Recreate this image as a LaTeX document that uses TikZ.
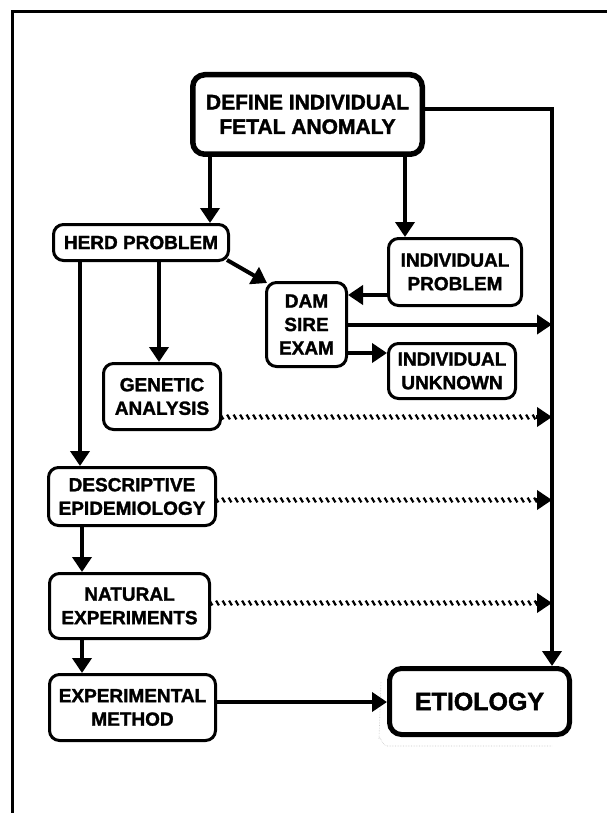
\documentclass[tikz,border=0pt]{standalone}
\usepackage{fontspec}
\setmainfont[BoldFeatures={FakeBold=1.6}]{Liberation Sans}
\usetikzlibrary{arrows.meta,decorations.markings,calc}
\begin{document}
\begin{tikzpicture}[x=1pt,y=-1pt,
  box/.style={draw, line width=3pt, rounded corners=10pt, inner sep=0pt, align=center,
    font=\bfseries\fontsize{19}{23.5}\selectfont},
  bigbox/.style={box, line width=5.5pt, rounded corners=12pt},
  conn/.style={line width=4pt},
  arr/.style={conn, -{Triangle[length=15pt,width=19pt]}},
  hatch/.style={postaction={decorate}, decoration={markings,
    mark=between positions 0 and 1 step 6.5pt with {\draw[line width=2.2pt] (-1.4pt,2.4pt)--(1.4pt,-2.4pt);}}},
]
\useasboundingbox (0,0) rectangle (607,813);
% frame
\draw[line width=3pt] (12,813) -- (12,12) -- (607,12);

% nodes
\node[bigbox, minimum width=229.5, minimum height=79.5, font=\bfseries\fontsize{21}{24.5}\selectfont]
  (def) at (307.5,114.5) {DEFINE INDIVIDUAL\\FETAL ANOMALY};
\node[box, minimum width=175, minimum height=36] (herd) at (141,242.5) {HERD PROBLEM};
\node[box, minimum width=133, minimum height=67] (indp) at (455,272) {INDIVIDUAL\\PROBLEM};
\node[box, minimum width=80, minimum height=84] (dam) at (306.5,324.5) {DAM\\SIRE\\EXAM};
\node[box, minimum width=127, minimum height=55] (indu) at (452,371) {INDIVIDUAL\\UNKNOWN};
\node[box, minimum width=117, minimum height=66] (gen) at (162,396.5) {GENETIC\\ANALYSIS};
\node[box, minimum width=167, minimum height=58] (desc) at (132,496.5) {DESCRIPTIVE\\EPIDEMIOLOGY};
\node[box, minimum width=160, minimum height=65] (nat) at (129.5,606) {NATURAL\\EXPERIMENTS};
\node[box, minimum width=166, minimum height=66] (exp) at (132.5,707.5) {EXPERIMENTAL\\METHOD};
\node[bigbox, line width=5pt, minimum width=180, minimum height=66, font=\bfseries\fontsize{25}{28}\selectfont]
  (eti) at (479.5,701.5) {ETIOLOGY};

% faint scan trace around ETIOLOGY
\draw[gray!45, line width=0.6pt, densely dotted] (381,682) -- (379,738) to[out=90,in=180] (387,746) -- (552,746);

% helper coordinates
\coordinate (vx) at (552,0);
\coordinate (c210) at (210,0);
\coordinate (c405) at (405,0);
\coordinate (c159) at (159,0);
\coordinate (c80) at (80,0);
\coordinate (c82) at (82,0);
\coordinate (r295) at (0,295);
\coordinate (r353) at (0,353);
\coordinate (r417) at (0,417);
\coordinate (r500) at (0,500);
\coordinate (r603) at (0,603);
\coordinate (r702) at (0,702);

% connectors
\draw[arr] (c210 |- def.south) -- (c210 |- herd.north);
\draw[arr] (c405 |- def.south) -- (c405 |- indp.north);
\draw[arr] ([yshift=5.5pt]def.east) -| (vx |- eti.north);
\draw[arr] (c159 |- herd.south) -- (c159 |- gen.north);
\draw[arr] (c80 |- herd.south) -- (c80 |- desc.north);
\draw[arr] ([shift={(-3,-2)}]herd.south east) -- ([shift={(2,2)}]dam.north west);
\draw[arr] (r295 -| indp.west) -- (r295 -| dam.east);
\draw[arr] (dam.east) -- (dam.east -| vx);
\draw[arr] (r353 -| dam.east) -- (r353 -| indu.west);
\draw[arr] (c82 |- desc.south) -- (c82 |- nat.north);
\draw[arr] (c82 |- nat.south) -- (c82 |- exp.north);
\draw[arr] (r702 -| exp.east) -- (r702 -| eti.west);

% hatched connectors
\path[hatch] (r417 -| gen.east) -- ($(r417 -| vx)+(-15,0)$);
\draw[arr] ($(r417 -| vx)+(-16,0)$) -- (r417 -| vx);
\path[hatch] (r500 -| desc.east) -- ($(r500 -| vx)+(-15,0)$);
\draw[arr] ($(r500 -| vx)+(-16,0)$) -- (r500 -| vx);
\path[hatch] (r603 -| nat.east) -- ($(r603 -| vx)+(-15,0)$);
\draw[arr] ($(r603 -| vx)+(-16,0)$) -- (r603 -| vx);
\end{tikzpicture}
\end{document}
